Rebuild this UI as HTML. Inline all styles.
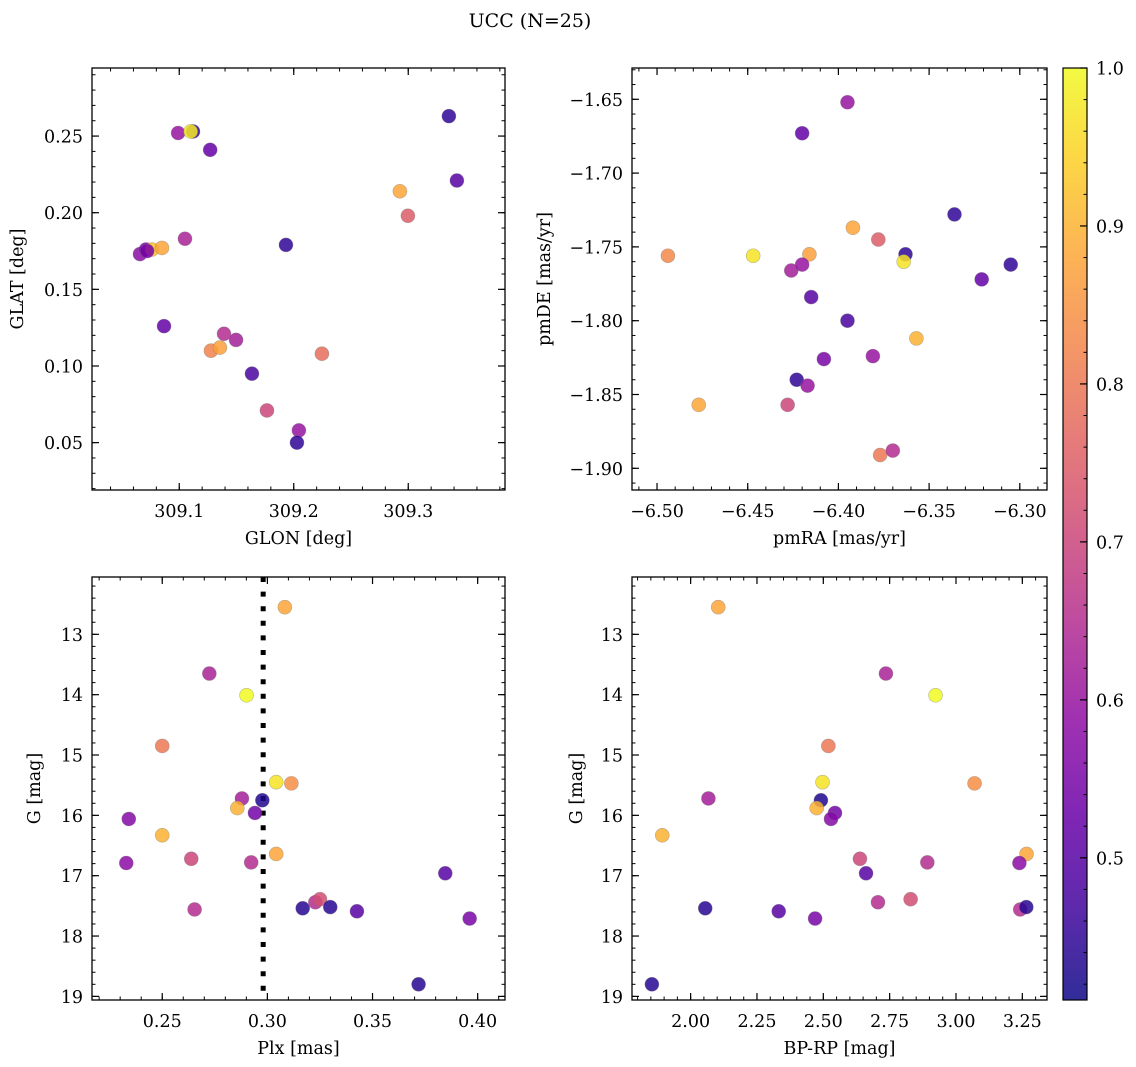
<!DOCTYPE html>
<html><head><meta charset="utf-8"><style>
html,body{margin:0;padding:0;background:#fff;}
svg{display:block;font-family:"DejaVu Serif","Liberation Serif",serif;}
</style></head><body>
<svg id="fig" width="1136" height="1067" viewBox="0 0 1136 1067" xmlns="http://www.w3.org/2000/svg">
<text x="530" y="27" font-size="19" text-anchor="middle">UCC (N=25)</text>
</svg>
<script>
// Shared stars (bottom panels)
const gMag = [12.55,13.65,14.01,14.85,15.45,15.47,15.72,15.75,15.88,15.96,16.06,16.33,16.64,16.72,16.78,16.79,16.96,17.56,17.54,17.44,17.39,17.52,17.59,17.71,18.80];
const plx  = [0.3083,0.2724,0.2901,0.2500,0.3042,0.3114,0.2879,0.2976,0.2857,0.2941,0.2341,0.2500,0.3042,0.2638,0.2923,0.2329,0.3846,0.2654,0.3168,0.3228,0.3250,0.3299,0.3426,0.3962,0.3719];
const bprp = [2.104,2.736,2.923,2.519,2.497,3.070,2.067,2.491,2.475,2.544,2.529,1.893,3.266,2.638,2.892,3.239,2.661,3.242,2.055,2.706,2.829,3.265,2.332,2.469,1.854];
const probG = [0.88,0.63,1.0,0.80,0.97,0.84,0.62,0.43,0.90,0.54,0.57,0.90,0.88,0.70,0.65,0.58,0.50,0.65,0.44,0.65,0.72,0.44,0.50,0.55,0.44];
// Top-left panel
const glon = [309.099,309.112,309.110,309.127,309.3355,309.3425,309.2927,309.2997,309.1932,309.105,309.0657,309.071,309.0762,309.0849,309.0867,309.1391,309.1496,309.1277,309.1355,309.2246,309.1635,309.1766,309.2045,309.2028,309.072];
const glat = [0.252,0.253,0.253,0.241,0.263,0.221,0.214,0.198,0.179,0.183,0.173,0.176,0.176,0.177,0.126,0.121,0.117,0.110,0.112,0.108,0.095,0.071,0.058,0.050,0.175];
const probL = [0.60,0.45,0.98,0.52,0.45,0.50,0.88,0.75,0.45,0.63,0.58,0.55,0.92,0.88,0.52,0.65,0.62,0.82,0.87,0.78,0.48,0.70,0.60,0.45,0.55];
// Top-right panel
const pmra = [-6.395,-6.420,-6.336,-6.392,-6.378,-6.494,-6.447,-6.416,-6.363,-6.364,-6.426,-6.420,-6.305,-6.321,-6.415,-6.395,-6.357,-6.408,-6.381,-6.423,-6.417,-6.477,-6.428,-6.377,-6.370];
const pmde = [-1.652,-1.673,-1.728,-1.737,-1.745,-1.756,-1.756,-1.755,-1.755,-1.760,-1.766,-1.762,-1.762,-1.772,-1.784,-1.800,-1.812,-1.826,-1.824,-1.840,-1.844,-1.857,-1.857,-1.891,-1.888];
const probP = [0.60,0.52,0.45,0.88,0.75,0.83,0.97,0.87,0.45,0.97,0.62,0.60,0.45,0.52,0.50,0.48,0.90,0.55,0.60,0.45,0.60,0.88,0.70,0.80,0.65];
const plxLine = [0.298];
const cbTicks = [0.5,0.6,0.7,0.8,0.9,1.0];
const cMin = 0.41, cMax = 1.0;

const NS="http://www.w3.org/2000/svg";
const svg=document.getElementById('fig');
const FS=17.5;
function mk(tag,attrs,parent){const e=document.createElementNS(NS,tag);for(const k in attrs)e.setAttribute(k,attrs[k]);(parent||svg).appendChild(e);return e;}
const stops=[[0,'#0d0887'],[0.1,'#41049d'],[0.2,'#6a00a8'],[0.3,'#8f0da4'],[0.4,'#b12a90'],[0.5,'#cc4778'],[0.6,'#e16462'],[0.7,'#f2844b'],[0.8,'#fca636'],[0.9,'#fcce25'],[1,'#f0f921']];
function hx(h){return [parseInt(h.substr(1,2),16),parseInt(h.substr(3,2),16),parseInt(h.substr(5,2),16)];}
function plasma(t){t=Math.max(0,Math.min(1,t));for(let i=0;i<stops.length-1;i++){if(t<=stops[i+1][0]){const f=(t-stops[i][0])/(stops[i+1][0]-stops[i][0]);const a=hx(stops[i][1]),b=hx(stops[i+1][1]);return 'rgb('+a.map((v,j)=>Math.round(v+(b[j]-v)*f)).join(',')+')';}}return stops[10][1];}
function cnorm(p){return (p-cMin)/(cMax-cMin);}

function panel(o){
  const g=mk('g',{});
  
  
  const sx=v=>o.x0+(v-o.xmin)/(o.xmax-o.xmin)*o.w;
  const sy=v=>o.inv? o.y0+(v-o.ymin)/(o.ymax-o.ymin)*o.h : o.y0+o.h-(v-o.ymin)/(o.ymax-o.ymin)*o.h;
  const ticks=(lo,hi,st)=>{const r=[];let s=Math.ceil(lo/st-1e-6);for(let k=s;k*st<=hi+1e-9;k++)r.push(+(k*st).toFixed(6));return r;};
  ticks(o.xmin,o.xmax,o.xminor).forEach(v=>{const x=sx(v);mk('line',{x1:x,x2:x,y1:o.y0+o.h,y2:o.y0+o.h-3.5,stroke:'#000','stroke-width':1},g);mk('line',{x1:x,x2:x,y1:o.y0,y2:o.y0+3.5,stroke:'#000','stroke-width':1},g);});
  ticks(o.ymin,o.ymax,o.yminor).forEach(v=>{const y=sy(v);mk('line',{x1:o.x0,x2:o.x0+3.5,y1:y,y2:y,stroke:'#000','stroke-width':1},g);mk('line',{x1:o.x0+o.w,x2:o.x0+o.w-3.5,y1:y,y2:y,stroke:'#000','stroke-width':1},g);});
  ticks(o.xmin,o.xmax,o.xmajor).forEach(v=>{const x=sx(v);mk('line',{x1:x,x2:x,y1:o.y0+o.h,y2:o.y0+o.h-7,stroke:'#000','stroke-width':1.2},g);mk('line',{x1:x,x2:x,y1:o.y0,y2:o.y0+7,stroke:'#000','stroke-width':1.2},g);
    const t=mk('text',{x:x,y:o.y0+o.h+27,'font-size':FS,'text-anchor':'middle'},g);t.textContent=v.toFixed(o.xdec).replace('-','\u2212');
    
    });
  ticks(o.ymin,o.ymax,o.ymajor).forEach(v=>{const y=sy(v);mk('line',{x1:o.x0,x2:o.x0+7,y1:y,y2:y,stroke:'#000','stroke-width':1.2},g);mk('line',{x1:o.x0+o.w,x2:o.x0+o.w-7,y1:y,y2:y,stroke:'#000','stroke-width':1.2},g);
    const t=mk('text',{x:o.x0-9,y:y+6.5,'font-size':FS,'text-anchor':'end'},g);t.textContent=v.toFixed(o.ydec).replace('-','\u2212');
    
    });
  if(o.vline){o.vline.forEach(v=>{const l=mk('line',{x1:sx(v),x2:sx(v),y1:o.y0,y2:o.y0+o.h,stroke:'#000','stroke-width':5,'stroke-dasharray':'5,9.6'},g);
    
    });}
  o.xs.forEach((xv,i)=>{const c=mk('circle',{cx:sx(xv),cy:sy(o.ys[i]),r:7,fill:plasma(cnorm(o.c[i])),'fill-opacity':0.85,stroke:'#777','stroke-opacity':0.5,'stroke-width':0.6},g);
    
    });
  const fr=mk('rect',{x:o.x0,y:o.y0,width:o.w,height:o.h,fill:'none',stroke:'#000','stroke-width':1.3},g);
  
  
  const xl=mk('text',{x:o.x0+o.w/2,y:o.y0+o.h+54,'font-size':FS,'text-anchor':'middle'},g);xl.textContent=o.xlab;
  
  
  const yx=o.ylx, yy=o.y0+o.h/2;
  const yl=mk('text',{x:yx,y:yy,'font-size':FS,'text-anchor':'middle',transform:'rotate(-90 '+yx+' '+yy+')'},g);yl.textContent=o.ylab;
  
  
}
panel({name:'glon-glat-panel',x0:92,y0:68,w:413,h:422,xmin:309.0238,xmax:309.3845,ymin:0.0191,ymax:0.2944,xmajor:0.1,xminor:0.02,ymajor:0.05,yminor:0.01,xdec:1,ydec:2,xs:glon,ys:glat,c:probL,xlab:'GLON [deg]',ylab:'GLAT [deg]',ylx:23});
panel({name:'pm-panel',x0:632,y0:68,w:415,h:422,xmin:-6.5138,xmax:-6.285,ymin:-1.9147,ymax:-1.6288,xmajor:0.05,xminor:0.01,ymajor:0.05,yminor:0.01,xdec:2,ydec:2,xs:pmra,ys:pmde,c:probP,xlab:'pmRA [mas/yr]',ylab:'pmDE [mas/yr]',ylx:550});
panel({name:'plx-g-panel',x0:92,y0:577,w:413,h:423,xmin:0.2166,xmax:0.413,ymin:12.05,ymax:19.06,inv:true,xmajor:0.05,xminor:0.01,ymajor:1,yminor:0.2,xdec:2,ydec:0,xs:plx,ys:gMag,c:probG,xlab:'Plx [mas]',ylab:'G [mag]',ylx:40,vline:plxLine});
panel({name:'cmd-panel',x0:632,y0:577,w:415,h:423,xmin:1.779,xmax:3.343,ymin:12.05,ymax:19.06,inv:true,xmajor:0.25,xminor:0.05,ymajor:1,yminor:0.2,xdec:2,ydec:0,xs:bprp,ys:gMag,c:probG,xlab:'BP-RP [mag]',ylab:'G [mag]',ylx:582});

(function(){
  const x0=1063,y0=68,w=24,h=932;
  const g=mk('g',{});
  
  
  const defs=mk('defs',{},g);
  const lg=mk('linearGradient',{id:'cbg',x1:0,y1:1,x2:0,y2:0},defs);
  for(let i=0;i<=20;i++){const t=i/20;mk('stop',{offset:t,'stop-color':plasma(t)},lg);}
  mk('rect',{x:x0,y:y0,width:w,height:h,fill:'url(#cbg)','fill-opacity':0.85},g);
  mk('rect',{x:x0,y:y0,width:w,height:h,fill:'none',stroke:'#000','stroke-width':1.2},g);
  const sy=v=>y0+h-(v-cMin)/(cMax-cMin)*h;
  for(let v=0.42;v<=1.0001;v+=0.02){const y=sy(v);mk('line',{x1:x0+w,x2:x0+w-3.5,y1:y,y2:y,stroke:'#000','stroke-width':1},g);}
  cbTicks.forEach(v=>{const y=sy(v);mk('line',{x1:x0+w,x2:x0+w-7,y1:y,y2:y,stroke:'#000','stroke-width':1.2},g);
    const t=mk('text',{x:x0+w+9,y:y+6.5,'font-size':FS},g);t.textContent=v.toFixed(1);
    
    });
})();
</script>
</body></html>
